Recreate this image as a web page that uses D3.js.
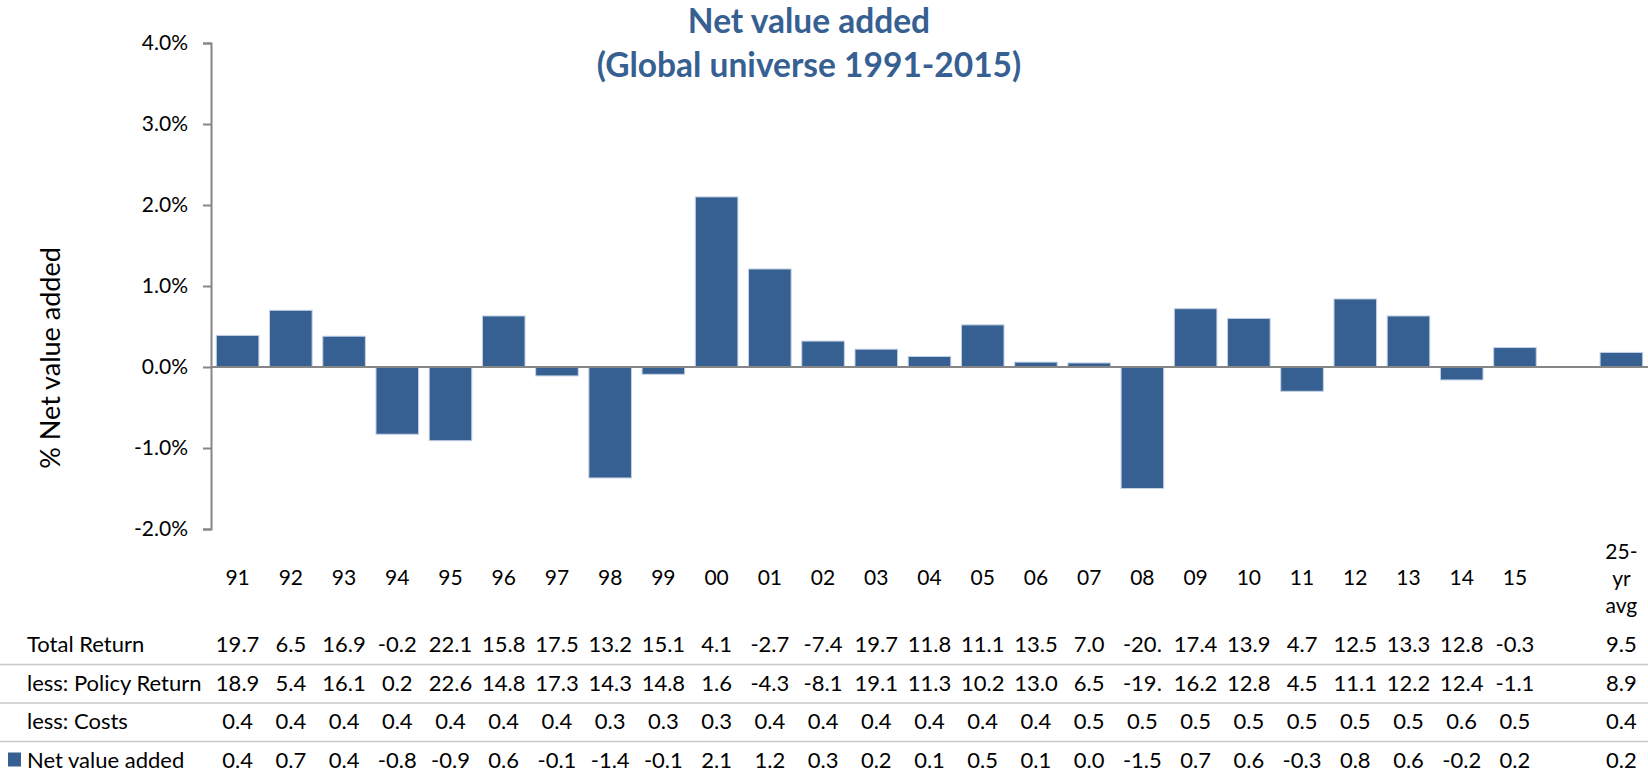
<!DOCTYPE html>
<html>
<head>
<meta charset="utf-8">
<script src="https://cdn.jsdelivr.net/npm/d3@7"></script>
<style>
  body { margin: 0; background: #fff; }
  text { font-family: Lato, "Open Sans", sans-serif; fill: #000; }
</style>
</head>
<body>
<div id="main"></div>
<script>
var years = ["91","92","93","94","95","96","97","98","99","00","01","02","03","04","05","06","07","08","09","10","11","12","13","14","15"];
var netValue = [0.39,0.70,0.38,-0.83,-0.91,0.63,-0.11,-1.37,-0.09,2.10,1.21,0.32,0.22,0.13,0.52,0.06,0.05,-1.50,0.72,0.60,-0.30,0.84,0.63,-0.16,0.24];
var avgLabel = ["25-", "yr", "avg"];
var avgNetValue = 0.18;
var yTicks = [-2, -1, 0, 1, 2, 3, 4];
var rowLabels = ["Total Return", "less: Policy Return", "less: Costs", "Net value added"];
var totalReturn = ["19.7","6.5","16.9","-0.2","22.1","15.8","17.5","13.2","15.1","4.1","-2.7","-7.4","19.7","11.8","11.1","13.5","7.0","-20.","17.4","13.9","4.7","12.5","13.3","12.8","-0.3"];
var policyReturn = ["18.9","5.4","16.1","0.2","22.6","14.8","17.3","14.3","14.8","1.6","-4.3","-8.1","19.1","11.3","10.2","13.0","6.5","-19.","16.2","12.8","4.5","11.1","12.2","12.4","-1.1"];
var costs = ["0.4","0.4","0.4","0.4","0.4","0.4","0.4","0.3","0.3","0.3","0.4","0.4","0.4","0.4","0.4","0.4","0.5","0.5","0.5","0.5","0.5","0.5","0.5","0.6","0.5"];
var netRow = ["0.4","0.7","0.4","-0.8","-0.9","0.6","-0.1","-1.4","-0.1","2.1","1.2","0.3","0.2","0.1","0.5","0.1","0.0","-1.5","0.7","0.6","-0.3","0.8","0.6","-0.2","0.2"];
var avgRow = ["9.5", "8.9", "0.4", "0.2"];

var blue = "#376092";
var keys = years.concat(["gap", "avg"]);
var bars = years.map(function(y, i) { return {key: y, value: netValue[i]}; })
  .concat([{key: "avg", value: avgNetValue}]);
var rows = [totalReturn, policyReturn, costs, netRow];

var canvas = d3.select("#main").append("svg")
  .attr("width", 1648)
  .attr("height", 776);//create canvas

var x = d3.scaleBand()
  .domain(keys)
  .range([211, 1648])
  .paddingInner(0.2)
  .paddingOuter(0.1);//category scale
var y = d3.scaleLinear()
  .domain([-2, 4])
  .range([529, 43]);//value scale

canvas.append("text")
  .attr("x", 809)
  .attr("y", 33)
  .style("text-anchor", "middle")
  .style("font-weight", "bold")
  .style("font-size", "33.5px")
  .style("fill", blue)
  .text("Net value added");
canvas.append("text")
  .attr("x", 809)
  .attr("y", 77)
  .style("text-anchor", "middle")
  .style("font-weight", "bold")
  .style("font-size", "33.5px")
  .style("fill", blue)
  .text("(Global universe 1991-2015)");//title

canvas.append("text")
  .attr("transform", "translate(60, 358) rotate(-90)")
  .style("text-anchor", "middle")
  .style("font-size", "27px")
  .text("% Net value added");//y label

var yAxis = d3.axisLeft(y)
  .tickValues(yTicks)
  .tickSize(8)
  .tickPadding(15)
  .tickFormat(function(d) { return d.toFixed(1) + "%"; });
var gy = canvas.append("g")
  .attr("transform", "translate(211, 0)")
  .call(yAxis);//y axis
gy.select(".domain").attr("stroke", "#868686").attr("stroke-width", 2);
gy.selectAll(".tick line").attr("stroke", "#868686").attr("stroke-width", 2);
gy.selectAll(".tick text").style("font-size", "21px").style("font-family", "Lato").attr("fill", "#000");

canvas.append("g").selectAll(".bar").data(bars).enter().append("rect")
  .attr("class", "bar")
  .attr("x", function(d) { return x(d.key); })
  .attr("width", x.bandwidth())
  .attr("y", function(d) { return y(Math.max(0, d.value)); })
  .attr("height", function(d) { return Math.abs(y(d.value) - y(0)); })
  .attr("fill", blue)
  .attr("stroke", "#c3d1e5")
  .attr("stroke-width", 1);//draw bars

canvas.append("line")
  .attr("x1", 211)
  .attr("x2", 1648)
  .attr("y1", y(0))
  .attr("y2", y(0))
  .attr("stroke", "#868686")
  .attr("stroke-width", 2);//zero line

canvas.append("g").selectAll(".cat").data(years).enter().append("text")
  .attr("class", "cat")
  .attr("x", function(d) { return x(d) + x.bandwidth() / 2; })
  .attr("y", 585)
  .style("text-anchor", "middle")
  .style("font-size", "21px")
  .text(function(d) { return d; });//category labels
canvas.append("g").selectAll(".avg").data(avgLabel).enter().append("text")
  .attr("class", "avg")
  .attr("x", x("avg") + x.bandwidth() / 2)
  .attr("y", function(d, i) { return 559 + i * 27; })
  .style("text-anchor", "middle")
  .style("font-size", "21px")
  .text(function(d) { return d; });//avg label

var rowY = [652, 690.5, 729, 767.5];
canvas.append("g").selectAll(".sep").data([0, 1, 2]).enter().append("line")
  .attr("x1", 0)
  .attr("x2", 1648)
  .attr("y1", function(d) { return rowY[d] + 12.5; })
  .attr("y2", function(d) { return rowY[d] + 12.5; })
  .attr("stroke", "#c8c8c8")
  .attr("stroke-width", 1.5);//table separators

canvas.append("g").selectAll(".rowlabel").data(rowLabels).enter().append("text")
  .attr("class", "rowlabel")
  .attr("x", 27)
  .attr("y", function(d, i) { return rowY[i]; })
  .style("font-size", "22px")
  .text(function(d) { return d; });//row labels
canvas.append("rect")
  .attr("x", 8)
  .attr("y", rowY[3] - 15)
  .attr("width", 13)
  .attr("height", 14)
  .attr("fill", blue);//legend key

rows.forEach(function(row, r) {
  canvas.append("g").selectAll("text").data(row.concat([avgRow[r]])).enter().append("text")
    .attr("x", function(d, i) { return x(i < years.length ? years[i] : "avg") + x.bandwidth() / 2; })
    .attr("y", rowY[r])
    .style("text-anchor", "middle")
    .style("font-size", "22px")
    .text(function(d) { return d; });
});//table values
</script>
</body>
</html>
